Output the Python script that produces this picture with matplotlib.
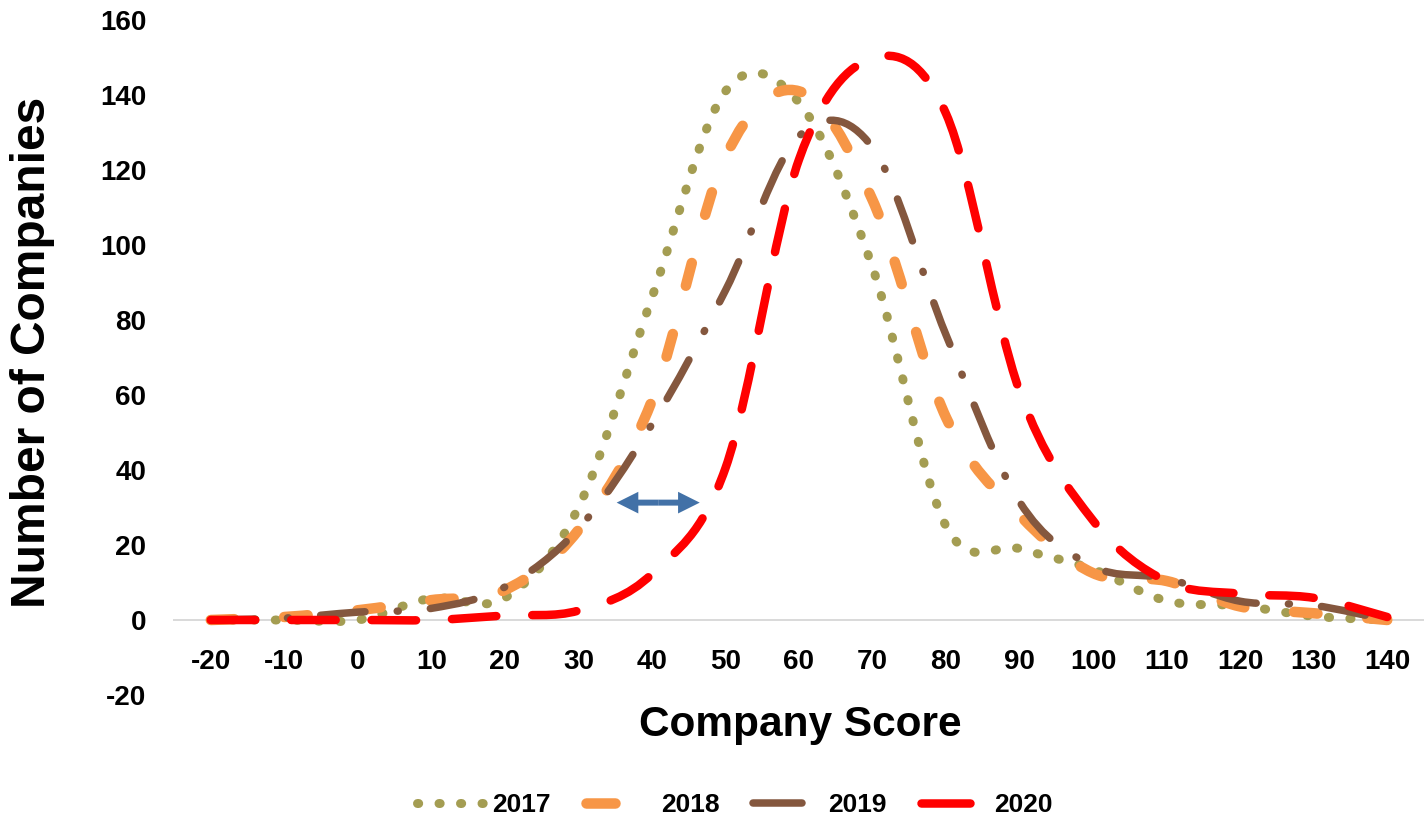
import numpy as np
import matplotlib
matplotlib.use("Agg")
import matplotlib.pyplot as plt
from matplotlib.path import Path
from matplotlib.patches import PathPatch, FancyArrowPatch
from matplotlib.lines import Line2D

plt.rcParams['font.family'] = ['Liberation Sans', 'DejaVu Sans']
plt.rcParams['font.weight'] = 'bold'
plt.rcParams['axes.unicode_minus'] = False

# Company score buckets and number of companies per bucket, by year
scores = [-20, -10, 0, 10, 20, 30, 40, 50, 60, 70, 80, 90, 100, 110, 120, 130, 140]
count_2017 = [0, 0, 0, 5.8, 5.9, 30, 86, 141, 138, 94, 25, 19, 13.5, 5.1, 3.8, 1.0, 0]
count_2018 = [0, 0.8, 2.6, 5.3, 8, 24, 58.5, 123.5, 141, 112, 54, 28, 12.5, 10.4, 3.6, 1.8, 0]
count_2019 = [0, 0.5, 2.1, 3.1, 8.8, 24.3, 52.2, 87.9, 129, 126, 76, 31.5, 14.3, 11.1, 5, 3.9, 0]
count_2020 = [0, 0, 0, 0, 1.2, 2.5, 12.3, 40.5, 122.8, 149.8, 135, 61, 26.5, 10.3, 7, 5.9, 0.8]
years = ['2017', '2018', '2019', '2020']
y_ticks = [-20, 0, 20, 40, 60, 80, 100, 120, 140, 160]

W, H = 1424, 817
PX = 72 / 100  # points per pixel at dpi 100

colors = ['#A49D52', '#F79646', '#84573E', '#FF0000']
widths_px = [9.0, 10.5, 7.5, 8.5]
# dash patterns in pixels (on, off, ...)
dash_px = [
    (1.2, 20.3),
    (23.5, 50.0),
    (44.5, 32.25, 1.0, 32.25),
    (44.5, 35.9),
]


def smooth_path(xs, ys):
    """Cubic Bezier path through the points (Catmull-Rom tangents)."""
    pts = np.column_stack([xs, ys]).astype(float)
    n = len(pts)
    verts = [pts[0]]
    codes = [Path.MOVETO]
    for i in range(n - 1):
        p0 = pts[max(i - 1, 0)]
        p1 = pts[i]
        p2 = pts[i + 1]
        p3 = pts[min(i + 2, n - 1)]
        c1 = p1 + (p2 - p0) / 6.0
        c2 = p2 - (p3 - p1) / 6.0
        verts += [c1, c2, p2]
        codes += [Path.CURVE4] * 3
    return Path(verts, codes)


def style(i):
    lw = widths_px[i] * PX
    pattern = tuple(d / widths_px[i] for d in dash_px[i])
    return lw, (0, pattern)


fig = plt.figure(figsize=(W / 100, H / 100), dpi=100)
ax = fig.add_axes([174 / W, 122 / H, 1250 / W, 675 / H])
ax.set_xlim(-25, 145)
ax.set_ylim(-20, 160)

series = [count_2017, count_2018, count_2019, count_2020]
for i, counts in enumerate(series):
    lw, ls = style(i)
    patch = PathPatch(smooth_path(scores, counts), fill=False, edgecolor=colors[i],
                      linewidth=lw, linestyle=ls, capstyle='round', joinstyle='round',
                      zorder=3 + i)
    ax.add_patch(patch)

# double-headed arrow marking the shift between years
arrow_y = 31.3
arrow_left, arrow_right = 35.2, 46.5
mid = (arrow_left + arrow_right) / 2
for end in (arrow_left, arrow_right):
    ax.add_patch(FancyArrowPatch((mid, arrow_y), (end, arrow_y),
                                 arrowstyle='simple,head_length=15.6,head_width=15.6,tail_width=4.3',
                                 mutation_scale=1, color='#4271A7', lw=0,
                                 shrinkA=0, shrinkB=0, zorder=8))

# axes styling
for side in ['left', 'right', 'top']:
    ax.spines[side].set_visible(False)
ax.spines['bottom'].set_position(('data', 0))
ax.spines['bottom'].set_color('#D9D9D9')
ax.spines['bottom'].set_linewidth(1.4)
ax.spines['bottom'].set_zorder(1)

ax.set_xticks(scores)
ax.set_xticklabels([f'{s}' for s in scores])
ax.set_yticks(y_ticks)
ax.set_yticklabels([f'{t}' for t in y_ticks])
ax.tick_params(axis='x', length=0, pad=21, labelsize=20)
ax.tick_params(axis='y', length=0, pad=20, labelsize=20)
for lab in ax.get_xticklabels() + ax.get_yticklabels():
    lab.set_fontweight('bold')

fig.text(800 / W, 1 - 725 / H, 'Company Score', ha='center', va='center',
         fontsize=30.5, fontweight='bold')
fig.text(33 / W, 1 - 352 / H, 'Number of Companies', rotation=90, ha='center',
         va='center', fontsize=34.5, fontweight='bold')

# legend along the bottom
leg_y = 1 - 803 / H
handle_spans = [(417, 483), (586, 615), (753, 802), (921, 970)]
text_x = [492, 661, 828, 994]
for i, year in enumerate(years):
    lw, ls = style(i)
    if i in (1, 2, 3):
        ls = '-'
    x0, x1 = handle_spans[i]
    fig.add_artist(Line2D([x0 / W, x1 / W], [leg_y, leg_y], transform=fig.transFigure,
                          color=colors[i], linewidth=lw, linestyle=ls,
                          solid_capstyle='round', dash_capstyle='round'))
    fig.text(text_x[i] / W, leg_y, year, ha='left', va='center_baseline',
             fontsize=19, fontweight='bold')

fig.savefig('out.png', dpi=100)
